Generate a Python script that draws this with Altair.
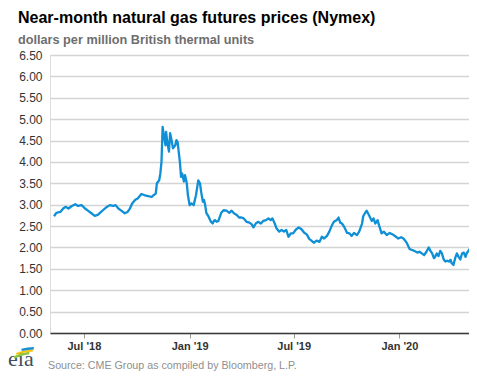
import altair as alt
import pandas as pd

# ---- data ----
dates = [
    "2018-05-10", "2018-05-14", "2018-05-21", "2018-05-26", "2018-05-30",
    "2018-06-04", "2018-06-10", "2018-06-16", "2018-06-21", "2018-06-27",
    "2018-07-03", "2018-07-08", "2018-07-14", "2018-07-20", "2018-07-25",
    "2018-07-29", "2018-08-03", "2018-08-09", "2018-08-15", "2018-08-21",
    "2018-08-25", "2018-08-30", "2018-09-04", "2018-09-10", "2018-09-15",
    "2018-09-19", "2018-09-23", "2018-09-28", "2018-10-03", "2018-10-09",
    "2018-10-15", "2018-10-21", "2018-10-27", "2018-10-30", "2018-11-03",
    "2018-11-05", "2018-11-09", "2018-11-11", "2018-11-13", "2018-11-15",
    "2018-11-17", "2018-11-20", "2018-11-21", "2018-11-23", "2018-11-26",
    "2018-11-28", "2018-12-01", "2018-12-03", "2018-12-07", "2018-12-09",
    "2018-12-11", "2018-12-15", "2018-12-17", "2018-12-19", "2018-12-22",
    "2018-12-24", "2018-12-27", "2018-12-29", "2019-01-01", "2019-01-04",
    "2019-01-08", "2019-01-12", "2019-01-16", "2019-01-19", "2019-01-21",
    "2019-01-24", "2019-01-26", "2019-01-28", "2019-01-30", "2019-02-03",
    "2019-02-07", "2019-02-10", "2019-02-12", "2019-02-14", "2019-02-17",
    "2019-02-20", "2019-02-22", "2019-02-25", "2019-03-01", "2019-03-06",
    "2019-03-11", "2019-03-15", "2019-03-19", "2019-03-24", "2019-03-28",
    "2019-04-01", "2019-04-05", "2019-04-10", "2019-04-15", "2019-04-19",
    "2019-04-22", "2019-04-26", "2019-04-30", "2019-05-05", "2019-05-09",
    "2019-05-14", "2019-05-18", "2019-05-22", "2019-05-25", "2019-05-29",
    "2019-06-01", "2019-06-06", "2019-06-10", "2019-06-14", "2019-06-18",
    "2019-06-22", "2019-06-26", "2019-06-30", "2019-07-05", "2019-07-10",
    "2019-07-15", "2019-07-19", "2019-07-24", "2019-07-28", "2019-08-01",
    "2019-08-05", "2019-08-10", "2019-08-15", "2019-08-19", "2019-08-23",
    "2019-08-28", "2019-09-01", "2019-09-05", "2019-09-09", "2019-09-14",
    "2019-09-17", "2019-09-20", "2019-09-23", "2019-09-27", "2019-10-02",
    "2019-10-06", "2019-10-10", "2019-10-14", "2019-10-19", "2019-10-23",
    "2019-10-28", "2019-10-30", "2019-11-02", "2019-11-05", "2019-11-08",
    "2019-11-11", "2019-11-14", "2019-11-17", "2019-11-20", "2019-11-24",
    "2019-11-27", "2019-12-01", "2019-12-05", "2019-12-10", "2019-12-15",
    "2019-12-22", "2019-12-26", "2019-12-30", "2020-01-04", "2020-01-08",
    "2020-01-11", "2020-01-14", "2020-01-19", "2020-01-23", "2020-01-27",
    "2020-02-01", "2020-02-05", "2020-02-09", "2020-02-13", "2020-02-17",
    "2020-02-21", "2020-02-24", "2020-02-27", "2020-03-01", "2020-03-03",
    "2020-03-06", "2020-03-09", "2020-03-12", "2020-03-15", "2020-03-18",
    "2020-03-21", "2020-03-24", "2020-03-27", "2020-03-30", "2020-04-01",
    "2020-04-04", "2020-04-07", "2020-04-10", "2020-04-13", "2020-04-16",
    "2020-04-19", "2020-04-22", "2020-04-25", "2020-04-27", "2020-04-30",
    "2020-05-03", "2020-05-05", "2020-05-07",
]
prices = [
    2.73, 2.81, 2.83, 2.91, 2.95,
    2.91, 2.97, 3.01, 2.97, 2.99,
    2.91, 2.86, 2.80, 2.74, 2.76,
    2.81, 2.87, 2.94, 2.99, 2.97,
    2.99, 2.91, 2.86, 2.80, 2.83,
    2.91, 3.03, 3.11, 3.15, 3.25,
    3.22, 3.20, 3.18, 3.22, 3.26,
    3.50, 3.57, 3.73, 4.00, 4.82,
    4.63, 4.39, 4.70, 4.47, 4.24,
    4.67, 4.47, 4.32, 4.39, 4.51,
    4.47, 4.00, 3.65, 3.73, 3.54,
    3.69, 3.50, 3.22, 2.99, 3.03,
    2.99, 3.22, 3.57, 3.50, 3.30,
    3.07, 3.11, 2.99, 2.81, 2.72,
    2.60, 2.56, 2.62, 2.64, 2.60,
    2.62, 2.70, 2.81, 2.87, 2.86,
    2.81, 2.86, 2.80, 2.76, 2.70,
    2.70, 2.68, 2.60, 2.58, 2.54,
    2.47, 2.56, 2.60, 2.56, 2.62,
    2.64, 2.68, 2.64, 2.68, 2.56,
    2.45, 2.37, 2.41, 2.37, 2.41,
    2.25, 2.33, 2.33, 2.42, 2.47,
    2.42, 2.35, 2.30, 2.20, 2.16,
    2.11, 2.16, 2.13, 2.25, 2.21,
    2.27, 2.37, 2.50, 2.60, 2.64,
    2.70, 2.58, 2.56, 2.48, 2.34,
    2.33, 2.27, 2.34, 2.29, 2.37,
    2.56, 2.73, 2.80, 2.86, 2.78,
    2.70, 2.62, 2.68, 2.56, 2.64,
    2.50, 2.33, 2.37, 2.29, 2.34,
    2.29, 2.25, 2.21, 2.24, 2.21,
    2.16, 2.10, 1.96, 1.94, 1.92,
    1.88, 1.90, 1.86, 1.82, 1.90,
    2.00, 1.92, 1.86, 1.75, 1.78,
    1.86, 1.80, 1.92, 1.86, 1.72,
    1.67, 1.69, 1.67, 1.71, 1.63,
    1.59, 1.75, 1.86, 1.78, 1.72,
    1.86, 1.88, 1.78, 1.86, 1.92,
    1.98, 2.16, 2.04,
]

y_ticks = [0.0, 0.5, 1.0, 1.5, 2.0, 2.5, 3.0, 3.5, 4.0, 4.5, 5.0, 5.5, 6.0, 6.5]
x_ticks = [(2018, 7, 1), (2019, 1, 1), (2019, 7, 1), (2020, 1, 1)]
x_domain = [(2018, 5, 3), (2020, 5, 15)]

title_text = "Near-month natural gas futures prices (Nymex)"
subtitle_text = "dollars per million British thermal units"
source_text = "Source: CME Group as compiled by Bloomberg, L.P."

df = pd.DataFrame({"date": dates, "price": prices})


def dt(t):
    return alt.DateTime(year=t[0], month=t[1], date=t[2], utc=True)


BLUE = "#0e8fd6"

line = alt.Chart(df).mark_line(color=BLUE, strokeWidth=2.3, strokeJoin="round").encode(
    x=alt.X(
        "date:T",
        title=None,
        scale=alt.Scale(type="utc", domain=[dt(t) for t in x_domain]),
        axis=alt.Axis(
            values=[dt(t) for t in x_ticks],
            labelExpr="utcFormat(datum.value, \"%b '%y\")",
            grid=False,
            domain=True,
            domainColor="#3a3a3a",
            domainWidth=1.6,
            ticks=True,
            tickColor="#9a9a9a",
            tickSize=5,
            tickWidth=1,
            labelFont="Liberation Sans",
            labelFontSize=11,
            labelFontWeight="bold",
            labelColor="#333333",
            labelPadding=2,
        ),
    ),
    y=alt.Y(
        "price:Q",
        title=None,
        scale=alt.Scale(domain=[0, 6.5], nice=False, zero=True),
        axis=alt.Axis(
            values=y_ticks,
            format=".2f",
            grid=True,
            gridColor="#d4d4d4",
            gridWidth=1.6,
            domain=False,
            ticks=False,
            labelFont="Liberation Sans",
            labelFontSize=12,
            labelColor="#333333",
            labelPadding=8,
        ),
    ),
)

one = pd.DataFrame({"t": [source_text]})
source = alt.Chart(one).mark_text(
    align="left", baseline="middle", font="Liberation Sans", fontSize=10.7, color="#8f8f8f"
).encode(x=alt.value(-2), y=alt.value(311), text="t:N")

logo_df = pd.DataFrame({"t": ["eia"]})
logo = alt.Chart(logo_df).mark_text(
    align="left", baseline="alphabetic", font="Liberation Serif", fontSize=22, color="#3d4f60"
).encode(x=alt.value(-42), y=alt.value(311), text="t:N")

arc_green = alt.Chart(logo_df).mark_arc(
    radius=46.5, radius2=44, theta=5.83, theta2=6.18, color="#8cc63e"
).encode(x=alt.value(-16), y=alt.value(343))
arc_yellow = alt.Chart(logo_df).mark_arc(
    radius=48.5, radius2=46.5, theta=5.90, theta2=6.26, color="#f4c20d"
).encode(x=alt.value(-16), y=alt.value(343))
arc_blue = alt.Chart(logo_df).mark_arc(
    radius=51, radius2=48.5, theta=6.03, theta2=6.28, color="#1a8fd0"
).encode(x=alt.value(-16), y=alt.value(343))

chart = alt.layer(line, source, logo, arc_green, arc_yellow, arc_blue).properties(
    width=427,
    height=278,
    autosize=alt.AutoSizeParams(type="none"),
    padding={"left": 42, "top": 47, "right": -8, "bottom": 38},
    title=alt.TitleParams(
        text=title_text,
        subtitle=subtitle_text,
        anchor="start",
        frame="group",
        dx=-32,
        dy=2,
        offset=4,
        font="Liberation Sans",
        fontSize=16,
        fontWeight="bold",
        color="#000000",
        subtitleFont="Liberation Sans",
        subtitleFontSize=12.7,
        subtitleFontWeight="bold",
        subtitleColor="#6e6e6e",
        subtitlePadding=8,
    ),
).configure_view(stroke=None).configure(background="white")

chart.save("out.html", embed_options={"renderer": "svg", "actions": False})
